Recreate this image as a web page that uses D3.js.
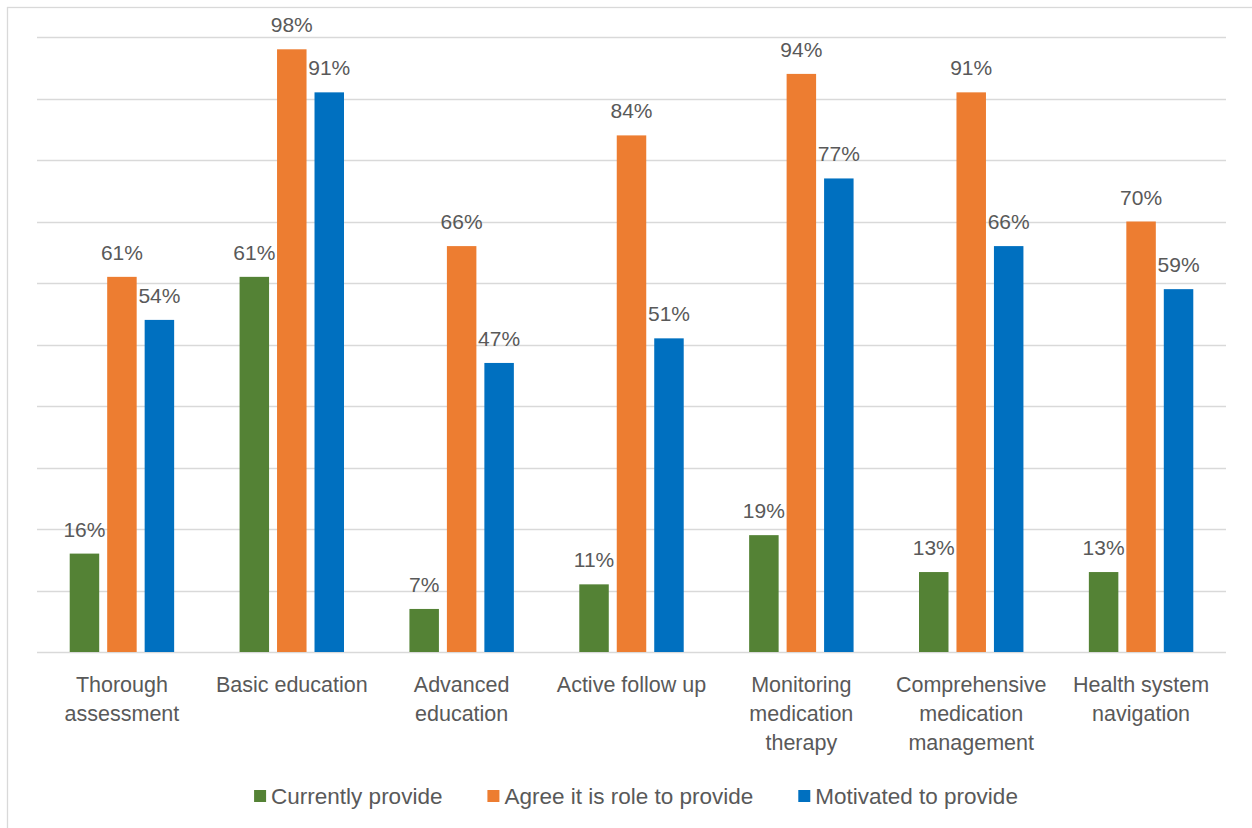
<!DOCTYPE html>
<html>
<head>
<meta charset="utf-8">
<script src="https://cdn.jsdelivr.net/npm/d3@7"></script>
<style>
  html, body { margin: 0; padding: 0; background: #ffffff; }
  svg { display: block; }
  text { font-family: "Liberation Sans", Arial, sans-serif; fill: #595959; }
</style>
</head>
<body>
<svg id="chart" width="1252" height="828"></svg>
<script>
// Service categories (line breaks mark wrapped axis labels)
const categories = [
  "Thorough\nassessment",
  "Basic education",
  "Advanced\neducation",
  "Active follow up",
  "Monitoring\nmedication\ntherapy",
  "Comprehensive\nmedication\nmanagement",
  "Health system\nnavigation"
];

const seriesNames = ["Currently provide", "Agree it is role to provide", "Motivated to provide"];
const seriesColors = ["#548235", "#ED7D31", "#0070C0"];

// Percent values per series, in category order
const currentlyProvide = [16, 61, 7, 11, 19, 13, 13];
const agreeRole = [61, 98, 66, 84, 94, 91, 70];
const motivated = [54, 91, 47, 51, 77, 66, 59];

const gridTicks = [0, 10, 20, 30, 40, 50, 60, 70, 80, 90, 100];

const seriesValues = [currentlyProvide, agreeRole, motivated];

const svg = d3.select("#chart");

// Outer chart frame
svg.append("rect")
  .attr("x", 7.5).attr("y", 7.5)
  .attr("width", 1400).attr("height", 1000)
  .attr("fill", "none")
  .attr("stroke", "#d9d9d9")
  .attr("stroke-width", 1.3);

const plot = { left: 37, right: 1226, top: 37, bottom: 652 };

const x = d3.scaleBand()
  .domain(categories)
  .range([plot.left, plot.right])
  .padding(0);

const xInner = d3.scaleBand()
  .domain(seriesNames)
  .range([0, x.bandwidth()])
  .paddingInner(0.213)
  .paddingOuter(0.873);

const y = d3.scaleLinear()
  .domain([0, 100])
  .range([plot.bottom, plot.top]);

// Horizontal gridlines
svg.append("g")
  .selectAll("line")
  .data(gridTicks)
  .join("line")
  .attr("x1", plot.left)
  .attr("x2", plot.right)
  .attr("y1", d => Math.round(y(d)) + 0.5)
  .attr("y2", d => Math.round(y(d)) + 0.5)
  .attr("stroke", "#d9d9d9")
  .attr("stroke-width", 1.3);

// Bars grouped by category
const rows = categories.map((c, i) => ({
  category: c,
  values: seriesNames.map((s, j) => ({ series: s, color: seriesColors[j], value: seriesValues[j][i] }))
}));

const groups = svg.append("g")
  .selectAll("g")
  .data(rows)
  .join("g")
  .attr("transform", d => `translate(${x(d.category)},0)`);

groups.selectAll("rect")
  .data(d => d.values)
  .join("rect")
  .attr("x", d => xInner(d.series))
  .attr("width", xInner.bandwidth())
  .attr("y", d => y(d.value))
  .attr("height", d => y(0) - y(d.value))
  .attr("fill", d => d.color);

groups.selectAll("text.value")
  .data(d => d.values)
  .join("text")
  .attr("class", "value")
  .attr("x", d => xInner(d.series) + xInner.bandwidth() / 2)
  .attr("y", d => y(d.value) - 17)
  .attr("text-anchor", "middle")
  .style("font-size", "21px")
  .text(d => d.value + "%");

// Category labels along the baseline
const xAxis = svg.append("g");
categories.forEach(c => {
  const t = xAxis.append("text")
    .attr("x", x(c) + x.bandwidth() / 2)
    .attr("y", 692)
    .attr("text-anchor", "middle")
    .style("font-size", "21.5px");
  c.split("\n").forEach((line, k) => {
    t.append("tspan")
      .attr("x", x(c) + x.bandwidth() / 2)
      .attr("dy", k === 0 ? 0 : 29)
      .text(line);
  });
});

// Legend, centred under the plot
const legend = svg.append("g");
const items = seriesNames.map((name, i) => {
  const g = legend.append("g");
  g.append("rect")
    .attr("width", 12).attr("height", 12)
    .attr("y", -6)
    .attr("fill", seriesColors[i]);
  const t = g.append("text")
    .attr("x", 17)
    .attr("y", 8)
    .style("font-size", "22.5px")
    .text(name);
  return { g, w: 17 + t.node().getComputedTextLength() };
});
const gap = 45;
const total = d3.sum(items, d => d.w) + gap * (items.length - 1);
let cx = 636 - total / 2;
items.forEach(it => {
  it.g.attr("transform", `translate(${cx},796)`);
  cx += it.w + gap;
});
</script>
</body>
</html>
